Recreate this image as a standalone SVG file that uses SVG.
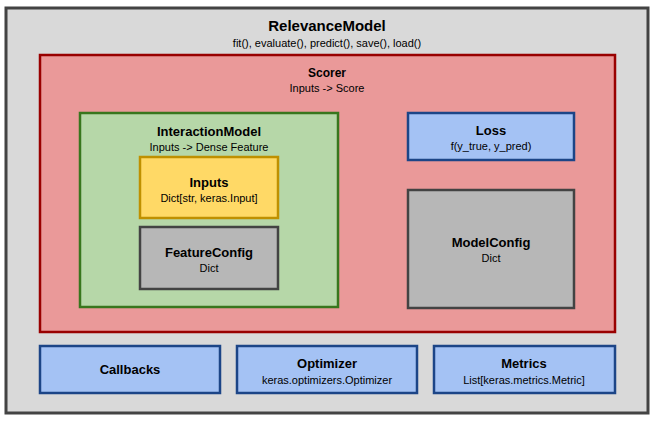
<svg xmlns="http://www.w3.org/2000/svg" width="657" height="423" viewBox="0 0 657 423">
<style>
text{font-family:"Liberation Sans",Arial,sans-serif;text-anchor:middle;fill:#000}
.t{font-weight:bold;font-size:13px}
.s{font-size:11px}
.blue{fill:#a4c2f4;stroke:#1c4587;stroke-width:2.5}
.grey{fill:#b7b7b7;stroke:#434343;stroke-width:2.5}
</style>
<rect width="657" height="423" fill="#fff"/>
<g id="RelevanceModel">
<rect x="6" y="8" width="642" height="405" fill="#d9d9d9" stroke="#434343" stroke-width="3"/>
<text class="t" x="327" y="31" style="font-size:15px">RelevanceModel</text>
<text class="s" x="327" y="47">fit(), evaluate(), predict(), save(), load()</text>
</g>
<g id="Scorer">
<rect x="40" y="55" width="575" height="277" fill="#ea9999" stroke="#990000" stroke-width="2.5"/>
<text class="t" x="327" y="77" style="font-size:12px">Scorer</text>
<text class="s" x="327" y="92">Inputs -&gt; Score</text>
</g>
<g id="InteractionModel">
<rect x="80" y="113" width="258" height="194" fill="#b6d7a8" stroke="#38761d" stroke-width="2.5"/>
<text class="t" x="209" y="136">InteractionModel</text>
<text class="s" x="209" y="151">Inputs -&gt; Dense Feature</text>
</g>
<g id="Inputs">
<rect x="140" y="157" width="138" height="61" fill="#ffd966" stroke="#bf9000" stroke-width="2.5"/>
<text class="t" x="209" y="187">Inputs</text>
<text class="s" x="209" y="202">Dict[str, keras.Input]</text>
</g>
<g id="FeatureConfig">
<rect class="grey" x="140" y="227" width="138" height="62"/>
<text class="t" x="209" y="257">FeatureConfig</text>
<text class="s" x="209" y="272">Dict</text>
</g>
<g id="Loss">
<rect class="blue" x="408" y="113" width="166" height="47"/>
<text class="t" x="491" y="135">Loss</text>
<text class="s" x="491" y="150">f(y_true, y_pred)</text>
</g>
<g id="ModelConfig">
<rect class="grey" x="408" y="190" width="166" height="118"/>
<text class="t" x="491" y="247">ModelConfig</text>
<text class="s" x="491" y="262">Dict</text>
</g>
<g id="Callbacks">
<rect class="blue" x="40" y="346" width="180" height="47"/>
<text class="t" x="130" y="374">Callbacks</text>
</g>
<g id="Optimizer">
<rect class="blue" x="237" y="346" width="180" height="47"/>
<text class="t" x="327" y="368">Optimizer</text>
<text class="s" x="327" y="384">keras.optimizers.Optimizer</text>
</g>
<g id="Metrics">
<rect class="blue" x="434" y="346" width="181" height="47"/>
<text class="t" x="524" y="368">Metrics</text>
<text class="s" x="524" y="384">List[keras.metrics.Metric]</text>
</g>
<g id="connectors"/>
</svg>
